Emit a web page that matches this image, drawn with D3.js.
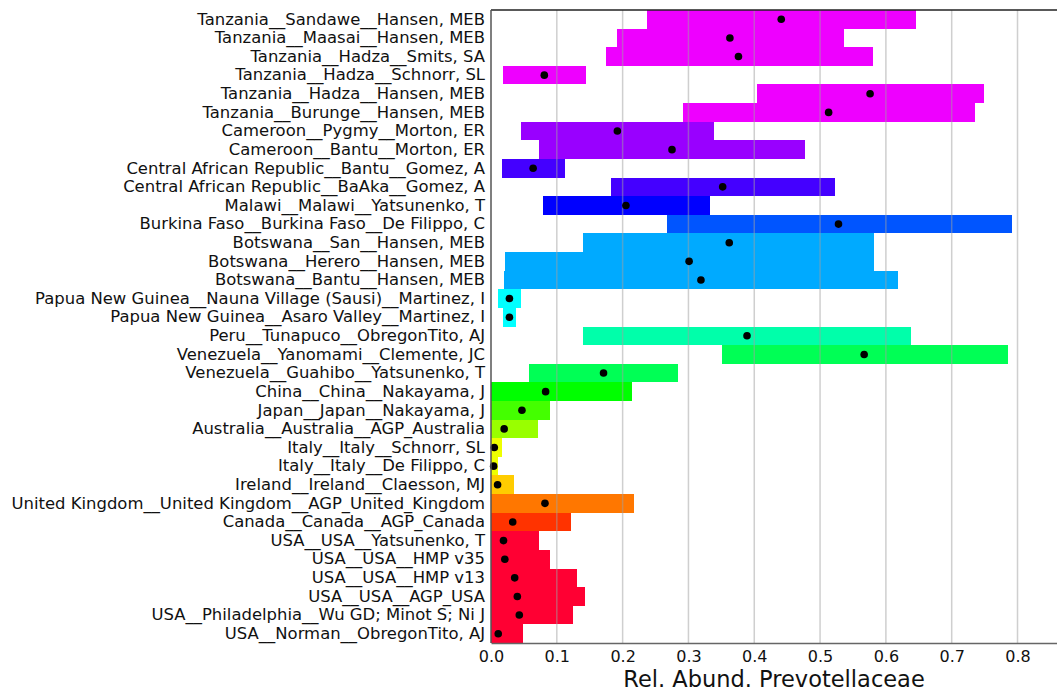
<!DOCTYPE html>
<html>
<head>
<meta charset="utf-8">
<script src="https://cdn.jsdelivr.net/npm/d3@7"></script>
<style>
  html, body { margin: 0; padding: 0; background: #fff; }
  svg { display: block; }
</style>
</head>
<body>
<svg id="chart" width="1057" height="694"></svg>
<script>
const categories = [
  "Tanzania__Sandawe__Hansen, MEB",
  "Tanzania__Maasai__Hansen, MEB",
  "Tanzania__Hadza__Smits, SA",
  "Tanzania__Hadza__Schnorr, SL",
  "Tanzania__Hadza__Hansen, MEB",
  "Tanzania__Burunge__Hansen, MEB",
  "Cameroon__Pygmy__Morton, ER",
  "Cameroon__Bantu__Morton, ER",
  "Central African Republic__Bantu__Gomez, A",
  "Central African Republic__BaAka__Gomez, A",
  "Malawi__Malawi__Yatsunenko, T",
  "Burkina Faso__Burkina Faso__De Filippo, C",
  "Botswana__San__Hansen, MEB",
  "Botswana__Herero__Hansen, MEB",
  "Botswana__Bantu__Hansen, MEB",
  "Papua New Guinea__Nauna Village (Sausi)__Martinez, I",
  "Papua New Guinea__Asaro Valley__Martinez, I",
  "Peru__Tunapuco__ObregonTito, AJ",
  "Venezuela__Yanomami__Clemente, JC",
  "Venezuela__Guahibo__Yatsunenko, T",
  "China__China__Nakayama, J",
  "Japan__Japan__Nakayama, J",
  "Australia__Australia__AGP_Australia",
  "Italy__Italy__Schnorr, SL",
  "Italy__Italy__De Filippo, C",
  "Ireland__Ireland__Claesson, MJ",
  "United Kingdom__United Kingdom__AGP_United_Kingdom",
  "Canada__Canada__AGP_Canada",
  "USA__USA__Yatsunenko, T",
  "USA__USA__HMP v35",
  "USA__USA__HMP v13",
  "USA__USA__AGP_USA",
  "USA__Philadelphia__Wu GD; Minot S; Ni J",
  "USA__Norman__ObregonTito, AJ"
];
const lowValues = [
  0.237, 0.192, 0.174, 0.018, 0.404, 0.292, 0.046, 0.073, 0.016, 0.183,
  0.079, 0.267, 0.140, 0.022, 0.020, 0.010, 0.018, 0.140, 0.351, 0.058,
  0.000, 0.000, 0.000, 0.000, 0.000, 0.000, 0.000, 0.000, 0.000, 0.000,
  0.000, 0.000, 0.000, 0.000
];
const highValues = [
  0.645, 0.536, 0.580, 0.145, 0.749, 0.736, 0.339, 0.477, 0.113, 0.523,
  0.333, 0.792, 0.582, 0.582, 0.619, 0.045, 0.038, 0.638, 0.786, 0.284,
  0.214, 0.090, 0.072, 0.016, 0.011, 0.035, 0.217, 0.121, 0.073, 0.090,
  0.131, 0.143, 0.125, 0.048
];
const centerValues = [
  0.441, 0.363, 0.376, 0.081, 0.576, 0.513, 0.192, 0.275, 0.064, 0.352,
  0.205, 0.528, 0.362, 0.301, 0.319, 0.028, 0.028, 0.389, 0.567, 0.171,
  0.083, 0.047, 0.020, 0.005, 0.004, 0.010, 0.082, 0.033, 0.019, 0.021,
  0.036, 0.040, 0.043, 0.011
];
const xTicks = [0.0, 0.1, 0.2, 0.3, 0.4, 0.5, 0.6, 0.7, 0.8];
const xTitle = "Rel. Abund. Prevotellaceae";

const countryColors = {
  "Tanzania": "#ee00ff",
  "Cameroon": "#9900ff",
  "Central African Republic": "#4400ff",
  "Malawi": "#0000ff",
  "Burkina Faso": "#0055ff",
  "Botswana": "#00aaff",
  "Papua New Guinea": "#00ffff",
  "Peru": "#00ffaa",
  "Venezuela": "#00ff55",
  "China": "#00ff00",
  "Japan": "#44ff00",
  "Australia": "#99ff00",
  "Italy": "#eeff00",
  "Ireland": "#ffcc00",
  "United Kingdom": "#ff7700",
  "Canada": "#ff3300",
  "USA": "#ff0033"
};

const rows = categories.map((c, i) => ({
  label: c,
  country: c.split("__")[0],
  lo: lowValues[i],
  hi: highValues[i],
  mid: centerValues[i]
}));

const svg = d3.select("#chart");
const plotLeft = 491, plotTop = 10, plotBottom = 643, plotRight = 1057;
const font = "'DejaVu Sans', Verdana, sans-serif";

const x = d3.scaleLinear().domain([0, 0.86]).range([plotLeft, plotRight]);
const y = d3.scaleBand().domain(categories).range([plotTop, plotBottom]).padding(0);

// bars
svg.append("g").selectAll("rect").data(rows).join("rect")
  .attr("x", d => x(d.lo))
  .attr("y", d => y(d.label))
  .attr("width", d => x(d.hi) - x(d.lo))
  .attr("height", y.bandwidth())
  .attr("fill", d => countryColors[d.country])
  .attr("shape-rendering", "crispEdges");

// gridlines (drawn over bars, semi-transparent)
svg.append("g").selectAll("line").data(xTicks.filter(t => t > 0)).join("line")
  .attr("x1", d => x(d)).attr("x2", d => x(d))
  .attr("y1", plotTop).attr("y2", plotBottom)
  .attr("stroke", "#a0a0a0").attr("stroke-opacity", 0.5).attr("stroke-width", 1.5);

// dots
svg.append("g").selectAll("circle").data(rows).join("circle")
  .attr("cx", d => x(d.mid))
  .attr("cy", d => y(d.label) + y.bandwidth() / 2)
  .attr("r", 3.8)
  .attr("fill", "#000");

// spines
svg.append("line").attr("x1", plotLeft).attr("x2", plotRight).attr("y1", plotTop).attr("y2", plotTop)
  .attr("stroke", "#222").attr("stroke-width", 1.5);
svg.append("line").attr("x1", plotLeft).attr("x2", plotLeft).attr("y1", plotTop).attr("y2", plotBottom)
  .attr("stroke", "#555").attr("stroke-width", 1.5);

// x axis
const xAxis = d3.axisBottom(x).tickValues(xTicks).tickFormat(d3.format(".1f")).tickSize(0).tickPadding(8);
const gx = svg.append("g").attr("transform", `translate(0,${plotBottom})`).call(xAxis);
gx.select(".domain").attr("stroke", "#666").attr("stroke-width", 1.5);
gx.selectAll("text").attr("font-family", font).attr("font-size", 16).attr("fill", "#111");

// y labels
const yAxis = d3.axisLeft(y).tickSize(0).tickPadding(6);
const gy = svg.append("g").attr("transform", `translate(${plotLeft},0)`).call(yAxis);
gy.select(".domain").remove();
gy.selectAll("text").attr("font-family", font).attr("font-size", 15).attr("fill", "#111");

// fit label font so the widest label spans the reference width
const widest = gy.selectAll("text").nodes().reduce((m, n) => Math.max(m, n.getComputedTextLength()), 0);
const target = 474;
const fs = Math.min(17, 15 * target / widest);
gy.selectAll("text").attr("font-size", fs);

// x title
svg.append("text")
  .attr("x", (plotLeft + plotRight) / 2)
  .attr("y", 687)
  .attr("text-anchor", "middle")
  .attr("font-family", font)
  .attr("font-size", 22.5)
  .attr("fill", "#111")
  .text(xTitle);
</script>
</body>
</html>
